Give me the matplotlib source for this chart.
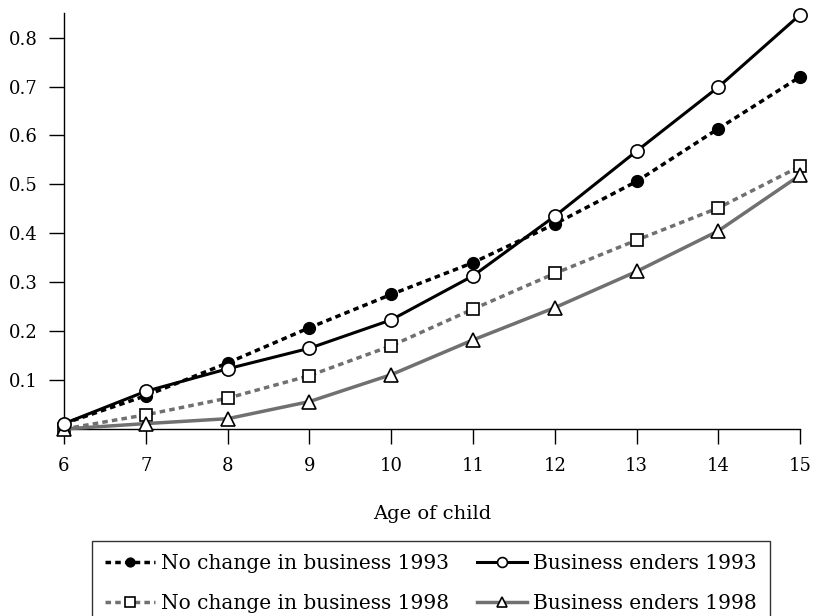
import matplotlib.pyplot as plt
import numpy as np

plt.rcParams['font.family'] = ['DejaVu Serif']

ages = [6, 7, 8, 9, 10, 11, 12, 13, 14, 15]
nochange_1993 = [0.011, 0.068, 0.135, 0.207, 0.275, 0.340, 0.419, 0.506, 0.614, 0.720]
enders_1993 = [0.011, 0.077, 0.123, 0.165, 0.223, 0.313, 0.435, 0.568, 0.699, 0.847]
nochange_1998 = [0.0, 0.029, 0.063, 0.109, 0.170, 0.245, 0.318, 0.386, 0.452, 0.537]
enders_1998 = [0.0, 0.011, 0.021, 0.056, 0.111, 0.182, 0.248, 0.322, 0.405, 0.519]
yticks = [0.1, 0.2, 0.3, 0.4, 0.5, 0.6, 0.7, 0.8]

grey = '#707070'
dash = (0, (1.6, 1.2))

fig = plt.figure(figsize=(8.14, 6.16), dpi=100)
ax = fig.add_axes([0.0786, 0.3036, 0.9044, 0.675])

l1, = ax.plot(ages, nochange_1993, color='black', lw=2.5, ls=dash,
              marker='o', ms=8.5, mfc='black', mec='black', clip_on=False, zorder=3,
              label='No change in business 1993')
l2, = ax.plot(ages, enders_1993, color='black', lw=2.2, ls='-',
              marker='o', ms=9.5, mfc='white', mec='black', mew=1.2, clip_on=False, zorder=4,
              label='Business enders 1993')
l3, = ax.plot(ages, nochange_1998, color=grey, lw=2.5, ls=dash,
              marker='s', ms=9, mfc='white', mec='black', mew=1.2, clip_on=False, zorder=3,
              label='No change in business 1998')
l4, = ax.plot(ages, enders_1998, color=grey, lw=2.5, ls='-',
              marker='^', ms=9.5, mfc='white', mec='black', mew=1.2, clip_on=False, zorder=3,
              label='Business enders 1998')

ax.set_xlim(6, 15)
ax.set_ylim(0, 0.85)
ax.set_xticks(ages)
ax.set_yticks(yticks)
ax.set_yticklabels([f'{v:.1f}' for v in yticks])
ax.tick_params(axis='both', direction='out', length=11, width=1, labelsize=13)
ax.tick_params(axis='x', pad=9)
ax.tick_params(axis='y', pad=8)
for side in ['top', 'right']:
    ax.spines[side].set_visible(False)
for side in ['left', 'bottom']:
    ax.spines[side].set_linewidth(1)

ax.set_xlabel('Age of child', fontsize=14, labelpad=22)

# legend below the axes, filled column by column
leg = fig.legend([l1, l3, l2, l4], [l.get_label() for l in (l1, l3, l2, l4)],
                 loc='upper left', bbox_to_anchor=(92 / 814, 1 - 541 / 616),
                 bbox_transform=fig.transFigure, borderaxespad=0, ncol=2,
                 fontsize=14.5, frameon=True, fancybox=False, edgecolor='black',
                 handlelength=2.5, columnspacing=1.35, handletextpad=0.3,
                 borderpad=0.64, labelspacing=1.04, markerscale=0.75)
leg.get_frame().set_linewidth(1)

plt.savefig('out.png', dpi=100)
